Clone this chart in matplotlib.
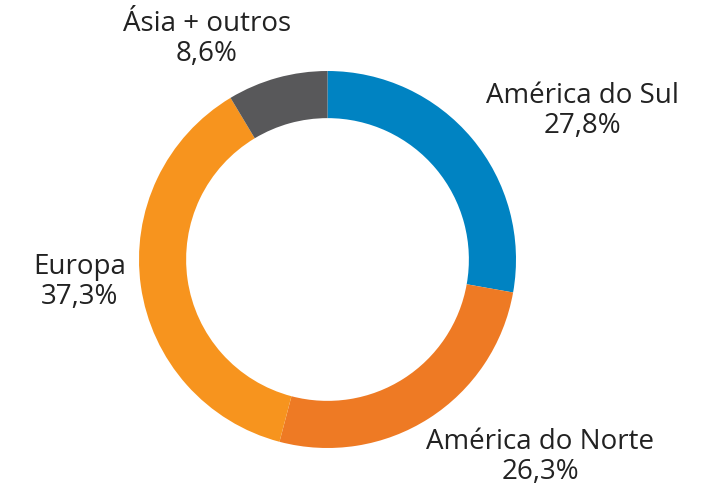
import matplotlib.pyplot as plt

labels = ['América do Sul', 'América do Norte', 'Europa', 'Ásia + outros']
values = [27.8, 26.3, 37.3, 8.6]
colors = ['#0083C2', '#EE7A24', '#F7941E', '#58585A']

# label centres in pixels (from top-left of the 710x485 picture)
label_pos = [(582, 111), (540, 457), (80, 282), (207, 39)]

W, H = 710, 485
fig = plt.figure(figsize=(W / 100, H / 100), dpi=100)
ax = fig.add_axes([139 / W, 36 / H, 377 / W, 377 / H])

ax.pie(values, colors=colors, startangle=90, counterclock=False,
       radius=1.0, wedgeprops=dict(width=0.25, linewidth=0))
ax.set_xlim(-1, 1)
ax.set_ylim(-1, 1)
ax.set_aspect('equal')
ax.axis('off')

for lab, v, (px, py) in zip(labels, values, label_pos):
    txt = f'{lab}\n{v:.1f}%'.replace('.', ',')
    fig.text(px / W, 1 - py / H, txt, ha='center', va='center',
             fontsize=20, family='Open Sans', color='#222222',
             linespacing=1.08)

fig.savefig('out.png', dpi=100)
